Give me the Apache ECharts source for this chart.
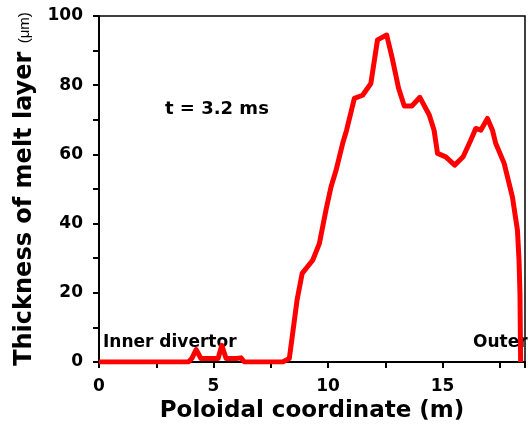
<!DOCTYPE html>
<html><head><meta charset="utf-8">
<script src="https://cdn.jsdelivr.net/npm/echarts@6/dist/echarts.min.js"></script>
<style>html,body{margin:0;padding:0;background:#fff}#c{width:528px;height:428px}</style>
</head><body><div id="c"></div>
<script>
// Poloidal coordinate (m)
const xValues = [0, 3.9, 4.05, 4.24, 4.45, 5.0, 5.2, 5.36, 5.55, 6.0, 6.2, 6.35, 8.02, 8.31, 8.45, 8.65, 8.87, 9.33, 9.62, 9.91, 10.13, 10.35, 10.64, 10.81, 11.15, 11.51, 11.87, 12.16, 12.56, 12.82, 13.08, 13.33, 13.66, 14.01, 14.42, 14.63, 14.78, 15.14, 15.53, 15.9, 16.23, 16.45, 16.67, 16.96, 17.18, 17.32, 17.69, 18.05, 18.27, 18.34, 18.38, 18.41];
// Thickness of melt layer (um)
const thickness = [0, 0, 1, 3.6, 1, 1, 1, 4.8, 1, 1, 1.2, 0, 0, 1, 8, 18, 25.6, 29.4, 34.2, 43.9, 50.6, 55.4, 63.2, 67.0, 76.2, 77.1, 80.5, 93.1, 94.5, 87.3, 79.1, 74.0, 74.0, 76.5, 71.4, 67.0, 60.3, 59.3, 56.9, 59.3, 64.1, 67.5, 67.0, 70.4, 67.0, 63.2, 57.4, 47.7, 38.1, 29.4, 19.8, 0];
const xTickLabels = ['0', '5', '10', '15'];
const yTickLabels = ['0', '20', '40', '60', '80', '100'];
const annotations = ['t = 3.2 ms', 'Inner divertor', 'Outer'];

const chart = echarts.init(document.getElementById('c'));
const font = '"DejaVu Sans", sans-serif';
const sfont = '"Liberation Sans", Arial, sans-serif';
chart.setOption({
  backgroundColor: '#fff',
  animation: false,
  grid: {left: 99, right: 2, top: 16, bottom: 66, show: true, borderColor: '#000', borderWidth: 1.5},
  xAxis: {
    type: 'value', min: 0, max: 18.6, interval: 2.5,
    name: 'Poloidal coordinate (m)', nameLocation: 'middle', nameGap: 37,
    nameTextStyle: {fontFamily: font, fontWeight: 'bold', fontSize: 23, color: '#000'},
    axisLine: {lineStyle: {color: '#000', width: 2}},
    axisTick: {inside: false, length: 6, lineStyle: {color: '#000', width: 2}},
    axisLabel: {margin: 16, fontFamily: font, fontWeight: 'bold', fontSize: 17, color: '#000',
      formatter: v => xTickLabels.includes(String(v)) ? String(v) : ''},
    splitLine: {show: false}
  },
  yAxis: {
    type: 'value', min: 0, max: 100, interval: 10,
    name: '{a|Thickness of melt layer }{b|(μm)}', nameLocation: 'middle', nameGap: 62,
    nameTextStyle: {rich: {
      a: {fontFamily: font, fontWeight: 'bold', fontSize: 24, color: '#000'},
      b: {fontFamily: sfont, fontWeight: 'normal', fontSize: 15, color: '#000'}
    }},
    axisLine: {lineStyle: {color: '#000', width: 2}},
    axisTick: {inside: false, length: 6, lineStyle: {color: '#000', width: 2}},
    axisLabel: {margin: 16, fontFamily: font, fontWeight: 'bold', fontSize: 17, color: '#000',
      formatter: v => yTickLabels.includes(String(v)) ? String(v) : ''},
    splitLine: {show: false}
  },
  series: [{
    type: 'line', data: xValues.map((x, i) => [x, thickness[i]]),
    showSymbol: false, smooth: false,
    lineStyle: {color: '#ff0000', width: 5, join: 'round'},
    itemStyle: {color: '#ff0000'}
  }],
  graphic: [
    {type: 'text', left: 165, top: 100, style: {text: annotations[0], font: 'bold 18px ' + font, fill: '#000'}},
    {type: 'text', left: 103, top: 334, style: {text: annotations[1], font: 'bold 17px ' + font, fill: '#000'}},
    {type: 'text', left: 473, top: 334, style: {text: annotations[2], font: 'bold 17px ' + font, fill: '#000'}}
  ]
});
</script></body></html>
